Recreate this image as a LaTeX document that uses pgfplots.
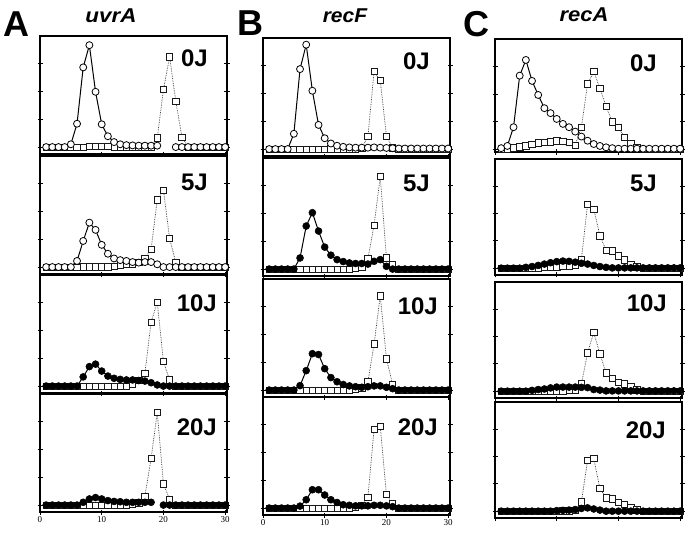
\documentclass[border=0pt]{standalone}
\usepackage{pgfplots}
\usepackage{pgfplotstable}
\pgfplotsset{compat=1.18}
\usepackage{graphicx}
\usepackage{fontspec}
\setmainfont{Liberation Sans}
\newfontfamily\serif{Liberation Serif}

% columns: fraction, circles/squares at 0, 5, 10, 20 J
\pgfplotstableread{
x  c0   s0   c5   s5   c10  s10  c20  s20
1  0    0    0    0    0    0    0    0
2  0    0    0    0    0    0    0    0
3  0    0    0    0    0    0    0    0
4  0    0    0    0    0    0    0    0
5  0.10 0    0    0    0    0    0    0
6  0.84 0    0.22 0    0    0    0    0
7  2.87 0    0.94 0.01 0.33 0    0.10 0
8  3.67 0.02 1.60 0.01 0.70 0    0.22 0
9  1.99 0.02 1.34 0.01 0.79 0    0.27 0
10 0.82 0.02 0.80 0.01 0.54 0    0.22 0
11 0.39 0.02 0.48 0.01 0.36 0    0.16 0
12 0.18 0.01 0.31 0.03 0.28 0    0.13 0
13 0.10 0.01 0.25 0.06 0.24 0    0.12 0
14 0.07 0.01 0.22 0.09 0.22 0    0.10 0.01
15 0.06 0.01 0.18 0.12 0.22 0.08 0.10 0.03
16 0.05 0.01 0.16 0.16 0.20 0.20 0.10 0.08
17 0.05 0.01 0.18 0.31 0.18 0.46 0.10 0.32
18 0.05 0.01 0.18 0.64 0.12 2.30 0.10 1.68
19 0.05 0.33 0.10 2.42 0.04 3.02 nan  3.33
20 nan  2.07 0    2.77 0    0.88 0    0.77
21 nan  3.25 0    1.04 0    0.22 0    0.20
22 0    1.65 0    0.16 0    0    0    0
23 0    0.36 0    0    0    0    0    0
24 0    0    0    0    0    0    0    0
25 0    0    0    0    0    0    0    0
26 0    0    0    0    0    0    0    0
27 0    0    0    0    0    0    0    0
28 0    0    0    0    0    0    0    0
29 0    0    0    0    0    0    0    0
30 0    0    0    0    0    0    0    0
}\uvrA

\pgfplotstableread{
x  c0   s0   c5   s5   c10  s10  c20  s20
1  0    0    0    0    0    0    0    0
2  0    0    0    0    0    0    0    0
3  0    0    0    0    0    0    0    0
4  0    0    0    0    0    0    0    0
5  0.55 0    0    0    0    0    0    0
6  2.88 0    0.40 0    0.16 0    0.07 0
7  3.76 0    1.55 0    0.70 0    0.30 0
8  2.10 0    2.03 0    1.31 0    0.66 0
9  0.87 0    1.37 0    1.28 0    0.66 0
10 0.39 0    0.79 0    0.77 0    0.47 0
11 0.20 0.01 0.50 0    0.45 0    0.30 0
12 0.12 0.01 0.34 0    0.30 0    0.20 0
13 0.08 0.01 0.27 0    0.20 0    0.12 0
14 0.06 0.01 0.22 0    0.15 0    0.10 0
15 0.05 0.01 0.20 0.02 0.12 0.02 0.08 0.02
16 0.05 0.03 0.20 0.08 0.10 0.08 0.08 0.10
17 0.05 0.45 0.18 0.37 0.12 0.30 0.08 0.39
18 0.06 2.79 0.28 1.58 0.15 1.66 0.10 2.84
19 0.05 2.48 0.34 3.33 0.15 3.40 0.10 2.94
20 0.04 0.46 0.10 0.40 0.10 1.13 0.08 0.49
21 0.03 0.05 0    0.18 0.05 0.20 0.05 0.15
22 0.02 0    0    0    0    0    0    0
23 0.02 0    0    0    0    0    0    0
24 0.02 0    0    0    0    0    0    0
25 0.02 0    0    0    0    0    0    0
26 0.02 0    0    0    0    0    0    0
27 0.02 0    0    0    0    0    0    0
28 0.02 0    0    0    0    0    0    0
29 0.02 0    0    0    0    0    0    0
30 0.02 0    0    0    0    0    0    0
}\recF

\pgfplotstableread{
x  c0   s0   c5   s5   c10  s10  c20  s20
1  0.04 0    0    0    0    0    0    0
2  0.12 0.02 0    0    0    0    0    0
3  0.80 0.05 0    0    0    0    0    0
4  2.67 0.08 0    0    0    0    0    0
5  3.24 0.12 0.03 0    0    0    0    0
6  2.48 0.17 0.06 0    0.03 0    0    0
7  1.97 0.23 0.10 0    0.06 0    0    0
8  1.49 0.25 0.15 0.02 0.08 0    0    0
9  1.31 0.27 0.20 0.04 0.12 0    0    0
10 1.10 0.30 0.24 0.05 0.15 0    0.02 0
11 0.92 0.29 0.26 0.06 0.15 0.01 0.03 0.01
12 0.80 0.25 0.25 0.07 0.15 0.02 0.04 0.01
13 0.64 0.15 0.22 0.10 0.15 0.04 0.06 0.02
14 0.46 0.80 0.18 0.33 0.14 0.27 0.10 0.34
15 0.31 2.37 0.15 2.34 0.13 1.40 0.12 1.87
16 0.19 2.82 0.10 2.16 0.06 2.15 0.08 1.93
17 0.12 2.21 0.06 1.19 0.04 1.37 0.04 0.83
18 0.07 1.55 0.03 0.65 0.01 0.67 0    0.49
19 0.04 1.00 0.01 0.63 0.01 0.48 0    0.45
20 0.02 0.79 0.01 0.45 0.01 0.33 0    0.33
21 0.02 0.43 0.01 0.30 0.01 0.27 0    0.24
22 0.02 0.19 0.01 0.14 0.01 0.17 0    0.15
23 0.02 0.05 0.01 0.05 0.01 0.05 0    0.05
24 0.02 0    0.01 0    0.01 0    0    0
25 0.02 0    0.01 0    0.01 0    0    0
26 0.02 0    0.01 0    0.01 0    0    0
27 0.02 0    0.01 0    0.01 0    0    0
28 0.02 0    0.01 0    0.01 0    0    0
29 0.02 0    0.01 0    0.01 0    0    0
30 0.02 0    0.01 0    0.01 0    0    0
}\recA

\pgfplotsset{
  panel/.style={scale only axis, width=187pt, height=118pt,
    anchor=north west,
    xmin=0, xmax=30.3, ymin=-0.25, ymax=4,
    xtick={0,10,20,30}, ytick={0,1,2,3},
    xticklabels={}, yticklabels={},
    xtick pos=left, tick align=center, major tick length=5pt,
    axis line style={line width=1.1pt},
    every tick/.style={black, line width=0.8pt},
    clip=false, unbounded coords=jump},
  bottom/.style={xticklabels={0,10,20,30},
    xticklabel style={font=\serif\fontsize{9}{9}\selectfont, yshift=2pt},
    /pgf/number format/assume math mode=true},
  sq/.style={black!80, line width=0.7pt, densely dotted,
    mark=square*, mark size=3.2pt,
    mark options={solid, fill=white, draw=black!90, line width=0.7pt}},
  oc/.style={black, line width=1pt, mark=*, mark size=3.5pt,
    mark options={solid, fill=white, draw=black, line width=0.8pt}},
  fc/.style={black, line width=1pt, mark=*, mark size=3.5pt,
    mark options={solid, fill=black, draw=black, line width=0.5pt}},
}

\begin{document}
\begin{tikzpicture}
\path[use as bounding box] (0pt,0pt) rectangle (697pt,-533pt);

% column A: uvrA
\begin{axis}[panel, at={(40pt,-36pt)}]
  \addplot[sq] table[x=x,y=s0]{\uvrA};
  \addplot[oc] table[x=x,y=c0]{\uvrA};
\end{axis}
\begin{axis}[panel, at={(40pt,-156pt)}]
  \addplot[sq] table[x=x,y=s5]{\uvrA};
  \addplot[oc] table[x=x,y=c5]{\uvrA};
\end{axis}
\begin{axis}[panel, at={(40pt,-275pt)}]
  \addplot[sq] table[x=x,y=s10]{\uvrA};
  \addplot[fc] table[x=x,y=c10]{\uvrA};
\end{axis}
\begin{axis}[panel, bottom, at={(40pt,-394pt)}]
  \addplot[sq] table[x=x,y=s20]{\uvrA};
  \addplot[fc] table[x=x,y=c20]{\uvrA};
\end{axis}

% column B: recF
\begin{axis}[panel, at={(263pt,-38pt)}]
  \addplot[sq] table[x=x,y=s0]{\recF};
  \addplot[oc] table[x=x,y=c0]{\recF};
\end{axis}
\begin{axis}[panel, at={(263pt,-158pt)}]
  \addplot[sq] table[x=x,y=s5]{\recF};
  \addplot[fc] table[x=x,y=c5]{\recF};
\end{axis}
\begin{axis}[panel, at={(263pt,-279pt)}]
  \addplot[sq] table[x=x,y=s10]{\recF};
  \addplot[fc] table[x=x,y=c10]{\recF};
\end{axis}
\begin{axis}[panel, bottom, at={(263pt,-397pt)}]
  \addplot[sq] table[x=x,y=s20]{\recF};
  \addplot[fc] table[x=x,y=c20]{\recF};
\end{axis}

% column C: recA
\begin{axis}[panel, at={(495pt,-39pt)}, height=113pt, ymin=-0.1]
  \addplot[sq] table[x=x,y=s0]{\recA};
  \addplot[oc] table[x=x,y=c0]{\recA};
\end{axis}
\begin{axis}[panel, at={(495pt,-159pt)}, height=116pt]
  \addplot[sq] table[x=x,y=s5]{\recA};
  \addplot[fc] table[x=x,y=c5]{\recA};
\end{axis}
\begin{axis}[panel, at={(495pt,-282pt)}, height=116pt]
  \addplot[sq] table[x=x,y=s10]{\recA};
  \addplot[fc] table[x=x,y=c10]{\recA};
\end{axis}
\begin{axis}[panel, at={(495pt,-402pt)}, height=116pt]
  \addplot[sq] table[x=x,y=s20]{\recA};
  \addplot[fc] table[x=x,y=c20]{\recA};
\end{axis}

% panel letters and titles
\begin{scope}[every node/.style={inner sep=0pt, font=\fontsize{36}{36}\bfseries}]
  \node at (16pt,-24pt) {A};
  \node at (250pt,-23pt) {B};
  \node at (476pt,-24pt) {C};
\end{scope}
\begin{scope}[every node/.style={inner sep=0pt, font=\fontsize{20}{20}\bfseries\itshape}]
  \node at (111pt,-16pt) {\scalebox{1.12}[1]{uvrA}};
  \node at (345pt,-16pt) {\scalebox{1.05}[1]{recF}};
  \node at (584pt,-15pt) {\scalebox{1.1}[1]{recA}};
\end{scope}

% dose labels
\begin{scope}[every node/.style={inner sep=0pt, anchor=east, font=\fontsize{24}{24}\bfseries}]
  \node at (208pt,-58pt) {0J};
  \node at (208pt,-182pt) {5J};
  \node at (217pt,-303pt) {10J};
  \node at (217pt,-427pt) {20J};
  \node at (430pt,-61pt) {0J};
  \node at (430pt,-183pt) {5J};
  \node at (438pt,-306pt) {10J};
  \node at (438pt,-427pt) {20J};
  \node at (657pt,-63pt) {0J};
  \node at (657pt,-183pt) {5J};
  \node at (667pt,-303pt) {10J};
  \node at (666pt,-430pt) {20J};
\end{scope}
\end{tikzpicture}
\end{document}
